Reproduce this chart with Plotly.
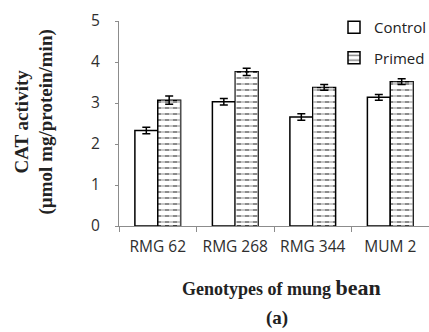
import plotly.graph_objects as go

categories = ["RMG 62", "RMG 268", "RMG 344", "MUM 2"]
control = [2.33, 3.03, 2.66, 3.14]
primed = [3.07, 3.76, 3.38, 3.52]
control_err = [0.08, 0.08, 0.08, 0.07]
primed_err = [0.10, 0.09, 0.07, 0.07]
yticks = [0, 1, 2, 3, 4, 5]

W, H = 429, 332
ML, MR, MT, MB = 119, 0, 21, 106

fig = go.Figure()
fig.add_trace(go.Bar(
    x=categories, y=control, name="Control", offsetgroup="c", legendgroup="c",
    marker=dict(color="white", line=dict(color="black", width=1.5)),
    error_y=dict(type="data", array=control_err, color="black", thickness=1.5, width=4),
))
fig.add_trace(go.Bar(
    x=categories, y=primed, name="Primed", offsetgroup="p", legendgroup="p",
    marker=dict(color="white", line=dict(color="black", width=1.5),
                pattern=dict(shape="-", fgcolor="black", bgcolor="white", size=6, solidity=0.3)),
))
fig.add_trace(go.Bar(
    x=categories, y=primed, name="Primed overlay", offsetgroup="p", showlegend=False,
    marker=dict(color="rgba(0,0,0,0)", line=dict(width=0),
                pattern=dict(shape="|", fgcolor="white", size=8, solidity=0.5)),
    error_y=dict(type="data", array=primed_err, color="black", thickness=1.5, width=4),
    hoverinfo="skip",
))

axis_gray = "#8c8c8c"
fig.update_layout(
    width=W, height=H,
    margin=dict(l=ML, r=MR, t=MT, b=MB, pad=0, autoexpand=False),
    paper_bgcolor="white", plot_bgcolor="white",
    barmode="group", bargap=0.41, bargroupgap=0,
    font=dict(family="Open Sans", size=14, color="#2e2e2e"),
    showlegend=True,
    legend=dict(xref="container", yref="container", x=334 / W, y=1 - 11 / H,
                xanchor="left", yanchor="top", tracegroupgap=8,
                font=dict(family="Open Sans", size=15, color="#222"),
                bgcolor="rgba(0,0,0,0)", borderwidth=0),
    xaxis=dict(range=[-0.5, 3.5], showline=True, linecolor=axis_gray, linewidth=1,
               ticks="outside", tickson="boundaries", ticklen=5, tickcolor=axis_gray,
               tickangle=0,
               tickfont=dict(family="Open Sans", size=15.5, color="#2e2e2e"),
               ticklabelstandoff=6, showgrid=False, zeroline=False),
    yaxis=dict(range=[0, 5], tickvals=yticks, showline=True, linecolor=axis_gray, linewidth=1,
               ticks="outside", ticklen=3, tickcolor=axis_gray,
               tickfont=dict(family="Open Sans", size=15.5, color="#2e2e2e"),
               ticklabelstandoff=12, showgrid=False, zeroline=False),
)

ph = H - MT - MB
pw = W - ML - MR
def px(xp):
    return (xp - ML) / pw
def py(yp):
    return (H - MB - yp) / ph

fig.add_annotation(
    text="<b>CAT activity<br>(µmol mg/protein/min)</b>",
    xref="paper", yref="paper", x=px(33.5), y=py(122), textangle=-90,
    showarrow=False, xanchor="center", yanchor="middle",
    font=dict(family="Liberation Serif", size=19, color="#222"),
)
fig.add_annotation(
    text="<b>Genotypes of mung <span style='font-size:22px'>bean</span></b>",
    xref="paper", yref="paper", x=px(281), y=py(287),
    showarrow=False, xanchor="center", yanchor="middle",
    font=dict(family="Liberation Serif", size=18, color="#222"),
)
fig.add_annotation(
    text="<b>(a)</b>",
    xref="paper", yref="paper", x=px(277), y=py(318),
    showarrow=False, xanchor="center", yanchor="middle",
    font=dict(family="Liberation Serif", size=19, color="#222"),
)

fig.write_html("out.html")
